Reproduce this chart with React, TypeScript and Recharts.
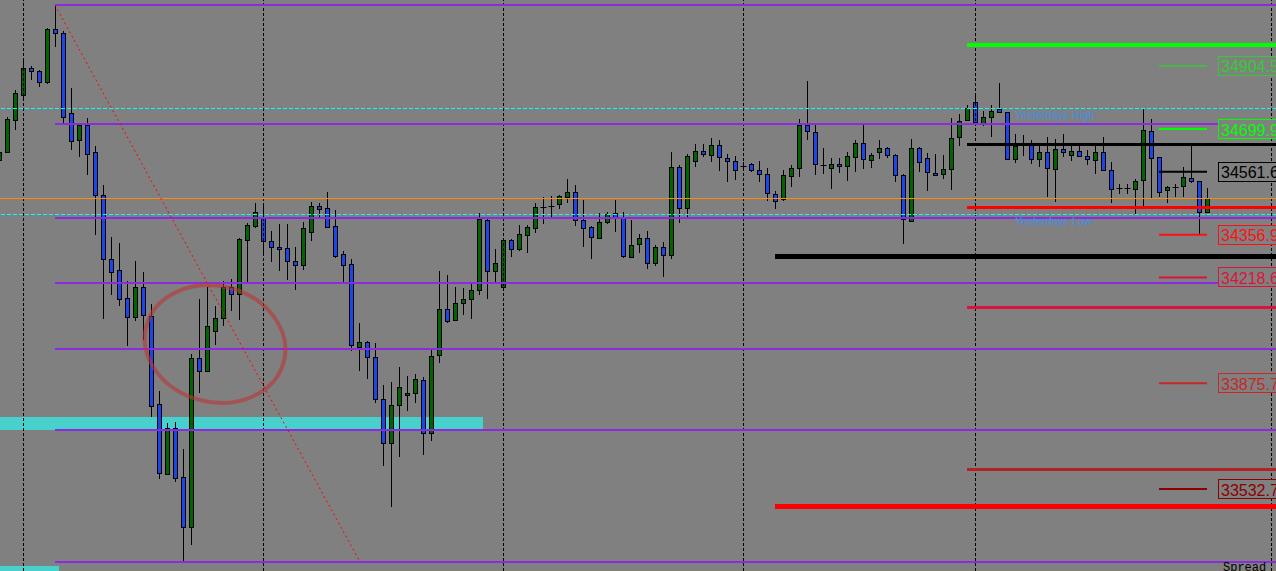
import React from "react"
import { Bar, ComposedChart, ReferenceArea, ReferenceDot, ReferenceLine, XAxis, YAxis } from "recharts"

// candles (one per bar, oldest first)
const opens = [
  34601.2, 34624.9, 34728.7, 34809.1, 34896.4, 34887.0, 34853.9, 35024.1, 35009.9, 34752.4,
  34665.1, 34712.2, 34624.9, 34487.7, 34279.9, 34244.5, 34152.4, 34091.1, 34187.8, 34093.4,
  33807.7, 33581.0, 33729.5, 33571.6, 33410.7, 33956.5, 33916.3, 34043.8, 34088.5, 34187.8,
  34164.4, 34341.5, 34386.2, 34411.5, 34336.0, 34318.5, 34314.2, 34271.1, 34260.1, 34366.1,
  34449.5, 34444.0, 34385.6, 34294.8, 34262.3, 33994.2, 34009.4, 33959.8, 33823.6, 33680.9,
  33804.1, 33836.5, 33843.0, 33886.2, 33713.3, 33966.3, 34117.4, 34080.7, 34134.9, 34147.9,
  34178.0, 34405.0, 34240.6, 34188.7, 34340.2, 34312.0, 34357.4, 34380.1, 34446.2, 34451.4,
  34456.0, 34480.6, 34494.9, 34404.1, 34382.3, 34347.6, 34397.6, 34426.8, 34410.6, 34286.0,
  34326.2, 34345.7, 34266.6, 34317.5, 34292.5, 34575.9, 34443.0, 34595.4, 34627.8, 34614.9,
  34647.3, 34605.1, 34595.4, 34581.1, 34585.7, 34566.2, 34553.2, 34488.4, 34474.1, 34546.8,
  34572.7, 34712.2, 34689.5, 34583.4, 34572.7, 34585.7, 34579.2, 34608.4, 34653.8, 34598.6,
  34624.6, 34637.6, 34614.9, 34550.0, 34402.8, 34637.6, 34605.1, 34556.5, 34553.2, 34569.5,
  34673.2, 34728.4, 34786.7, 34718.6, 34738.1, 34764.0, 34754.3, 34601.9, 34648.3, 34647.3,
  34601.9, 34624.6, 34569.5, 34634.3, 34614.9, 34627.8, 34611.6, 34598.6, 34624.6, 34566.2,
  34509.8, 34509.8, 34504.6, 34533.8, 34692.7, 34608.4, 34501.4, 34511.1, 34514.3, 34540.3,
  34530.5, 34430.0,
]
const highs = [
  34632.0, 34738.1, 34825.7, 34922.3, 34903.5, 34891.8, 35028.7, 35102.0, 35019.3, 34832.8,
  34717.0, 34735.8, 34643.7, 34518.5, 34348.6, 34329.5, 34206.9, 34273.0, 34235.1, 34131.3,
  33850.2, 33746.1, 33748.7, 33661.1, 33970.5, 34147.9, 34187.8, 34126.5, 34206.9, 34213.7,
  34346.0, 34395.6, 34461.8, 34452.7, 34368.4, 34392.1, 34392.1, 34316.5, 34398.5, 34463.4,
  34459.2, 34495.8, 34437.5, 34305.5, 34279.5, 34072.0, 34013.6, 34005.2, 33870.9, 33879.7,
  33927.3, 33899.1, 33905.6, 33894.9, 33989.9, 34238.7, 34225.7, 34186.8, 34184.5, 34199.8,
  34426.8, 34407.3, 34312.0, 34341.0, 34342.4, 34387.8, 34387.8, 34459.2, 34478.7, 34482.9,
  34485.1, 34538.0, 34518.5, 34469.9, 34385.6, 34427.7, 34431.0, 34469.9, 34430.0, 34405.0,
  34358.7, 34368.4, 34323.0, 34332.7, 34625.6, 34582.4, 34618.1, 34650.5, 34650.5, 34670.0,
  34663.5, 34618.1, 34612.6, 34593.1, 34589.9, 34596.4, 34574.7, 34499.1, 34566.2, 34582.4,
  34731.6, 34854.8, 34712.2, 34637.6, 34606.1, 34605.1, 34624.6, 34663.5, 34712.2, 34621.3,
  34663.5, 34640.8, 34618.1, 34553.2, 34666.8, 34640.8, 34621.3, 34618.1, 34614.9, 34734.9,
  34747.8, 34777.0, 34806.2, 34757.6, 34777.0, 34848.4, 34754.3, 34683.0, 34680.7, 34664.5,
  34647.3, 34673.2, 34666.8, 34683.0, 34647.3, 34647.3, 34631.1, 34647.3, 34673.2, 34592.2,
  34522.8, 34522.8, 34537.0, 34767.3, 34731.6, 34608.4, 34514.3, 34520.8, 34575.9, 34647.3,
  34530.5, 34507.8,
]
const lows = [
  34593.1, 34623.0, 34698.2, 34793.9, 34858.7, 34835.1, 34846.7, 34967.4, 34714.7, 34632.0,
  34610.6, 34551.6, 34358.0, 34084.0, 34161.8, 34126.5, 33996.4, 34079.1, 34015.6, 33767.5,
  33566.7, 33578.4, 33554.7, 33297.6, 33351.7, 33845.3, 33911.5, 34001.3, 34060.3, 34109.9,
  34081.7, 34202.0, 34379.1, 34292.5, 34268.8, 34240.6, 34210.5, 34178.0, 34242.9, 34337.9,
  34415.7, 34379.1, 34281.8, 34201.7, 33981.2, 33916.3, 33890.4, 33812.5, 33607.3, 33475.3,
  33635.5, 33784.7, 33812.5, 33643.9, 33689.3, 33940.3, 34070.0, 34078.5, 34097.9, 34083.0,
  34160.8, 34147.9, 34199.8, 34175.8, 34286.0, 34305.5, 34299.0, 34363.9, 34392.1, 34413.8,
  34441.7, 34461.1, 34386.6, 34318.5, 34279.5, 34344.4, 34392.1, 34367.1, 34282.8, 34282.8,
  34299.0, 34247.1, 34256.8, 34221.2, 34279.5, 34396.3, 34412.5, 34577.9, 34608.4, 34594.1,
  34564.9, 34529.2, 34535.7, 34567.2, 34559.7, 34529.2, 34467.6, 34441.7, 34467.6, 34513.0,
  34545.5, 34663.5, 34552.0, 34555.2, 34506.5, 34558.4, 34530.5, 34559.7, 34569.5, 34572.7,
  34603.8, 34605.1, 34527.3, 34326.2, 34400.8, 34561.7, 34498.1, 34546.8, 34539.0, 34501.4,
  34644.1, 34725.1, 34718.6, 34708.9, 34675.2, 34754.3, 34599.6, 34588.9, 34612.6, 34586.6,
  34577.9, 34480.6, 34464.4, 34608.4, 34595.4, 34608.4, 34582.4, 34553.2, 34563.0, 34459.2,
  34488.4, 34488.4, 34422.2, 34444.9, 34474.1, 34478.7, 34459.2, 34478.7, 34478.7, 34524.1,
  34355.4, 34430.0,
]
const closes = [
  34624.9, 34731.3, 34816.3, 34896.4, 34887.0, 34851.6, 35024.1, 35009.9, 34740.7, 34662.5,
  34712.2, 34620.1, 34487.7, 34277.6, 34237.4, 34150.1, 34091.1, 34187.8, 34095.7, 33802.8,
  33585.5, 33729.5, 33569.0, 33410.7, 33956.5, 33916.3, 34060.3, 34086.3, 34187.8, 34166.7,
  34343.7, 34388.5, 34431.0, 34336.0, 34318.5, 34312.0, 34273.1, 34260.1, 34379.1, 34450.4,
  34441.7, 34383.3, 34288.3, 34260.1, 34000.6, 34009.4, 33959.8, 33823.6, 33680.9, 33804.1,
  33864.4, 33843.0, 33888.4, 33713.3, 33964.0, 34115.4, 34076.5, 34134.9, 34147.9, 34178.0,
  34407.3, 34238.7, 34264.6, 34340.2, 34312.0, 34358.7, 34382.3, 34446.2, 34446.2, 34451.4,
  34481.9, 34494.9, 34404.1, 34380.1, 34350.9, 34397.6, 34423.5, 34410.6, 34289.3, 34323.0,
  34345.7, 34266.6, 34317.5, 34290.6, 34575.9, 34443.0, 34611.6, 34627.8, 34618.1, 34647.3,
  34608.4, 34595.4, 34566.2, 34581.1, 34566.2, 34553.2, 34491.6, 34465.7, 34550.0, 34572.7,
  34712.2, 34692.7, 34585.7, 34583.4, 34585.7, 34579.2, 34611.6, 34653.8, 34601.9, 34614.9,
  34637.6, 34614.9, 34550.0, 34407.3, 34637.6, 34592.2, 34559.7, 34550.0, 34569.5, 34670.0,
  34725.1, 34767.3, 34721.9, 34738.1, 34759.5, 34754.3, 34601.9, 34645.0, 34648.3, 34603.8,
  34624.6, 34572.7, 34634.3, 34624.6, 34627.8, 34611.6, 34601.9, 34624.6, 34566.2, 34504.6,
  34509.8, 34509.8, 34530.5, 34695.9, 34605.1, 34494.9, 34511.1, 34511.1, 34543.5, 34530.5,
  34430.0, 34475.4,
]

// horizontal objects on the chart
const pivotLevels = [35102.3, 34716.4, 34413.1, 34200.7, 33986.7, 33724.0, 33295.9]
const yesterdayHigh = 34767.3
const yesterdayLow = 34423.9
const bidPrice = 34475.4
const sessionBreaks = [3, 33, 63, 93, 122, 159]
const labelLevels = [34904.5, 34699.9, 34561.6, 34356.9, 34218.6, 33875.7, 33532.7]
const zoneLevels = [34972.6, 34651.5, 34445.6, 34288.3, 34122.9, 33595.9, 33477.5]
const zoneStartBar = [121, 121, 121, 97, 121, 121, 97]
const trendStart = { bar: 7, price: 35102.0 }
const trendEnd = { bar: 45, price: 33302.4 }
const circleAt = { bar: 27, price: 34002.9 }
const supplyZone = { from: 0, to: 60, low: 33724.0, high: 33766.2 }
const cornerZone = { from: 0, to: 7, low: 33266.8, high: 33283.0 }

const labelColors = ["#32cd32", "#00ff00", "#000000", "#ff1010", "#dc143c", "#c62828", "#8b0000"]
const zoneColors = ["#00ff00", "#000000", "#ff0000", "#000000", "#dc143c", "#b22222", "#ff0000"]
const zoneWidths = [4, 3, 3, 5, 3, 3, 5]

const SLOTS = 162
const STEP = 8
const PRICE_MIN = 33266.8
const PRICE_MAX = 35118.5
const LAST_SLOT = SLOTS - 1
const LABEL_FROM = 145
const LABEL_TO = 151

const data = Array.from({ length: SLOTS }, (_, i) => ({
  i,
  open: opens[i],
  high: highs[i],
  low: lows[i],
  close: closes[i],
}))

const BULL = "#006400"
const BEAR = "#1c46e8"
const SANS = "'Liberation Sans', Arial, sans-serif"

const Candle = (props: any) => {
  const { x, y, width, height, payload } = props
  if (payload == null || payload.open == null) return null
  const { open, high, low, close } = payload
  const yHigh = Math.min(y, y + height)
  const yLow = Math.max(y, y + height)
  const range = high - low
  const toY = (v: number) => (range > 0 ? yHigh + ((high - v) / range) * (yLow - yHigh) : yHigh)
  const cx = Math.floor(x + width / 2) + 0.5
  const yO = toY(open)
  const yC = toY(close)
  const top = Math.round(Math.min(yO, yC)) + 0.5
  const bottom = Math.round(Math.max(yO, yC)) + 0.5
  return (
    <g>
      <line x1={cx} x2={cx} y1={Math.round(yHigh)} y2={Math.round(yLow)} stroke="#000" strokeWidth={1} />
      {bottom - top < 1 ? (
        <line x1={cx - 3} x2={cx + 3} y1={top} y2={top} stroke="#000" strokeWidth={1} />
      ) : (
        <rect
          x={cx - 2}
          y={top}
          width={4}
          height={bottom - top}
          fill={close > open ? BULL : BEAR}
          stroke="#000"
          strokeWidth={1}
        />
      )}
    </g>
  )
}

const priceBox = (color: string, value: number) => (props: any) => {
  const { cx, cy } = props
  return (
    <g>
      <rect x={cx + 11.5} y={Math.round(cy) - 9.5} width={80} height={19} fill="#808080" stroke={color} strokeWidth={1} />
      <text x={cx + 14} y={cy + 6.5} fill={color} fontSize={16} fontFamily={SANS}>
        {value.toFixed(1)}
      </text>
    </g>
  )
}

const textTag = (text: string, color: string, dy: number, size: number, family: string) => (props: any) => (
  <text x={props.cx} y={props.cy + dy} fill={color} fontSize={size} fontFamily={family}>
    {text}
  </text>
)

const circleShape = (props: any) => (
  <ellipse
    cx={props.cx}
    cy={props.cy}
    rx={71}
    ry={58}
    transform={`rotate(14 ${props.cx} ${props.cy})`}
    fill="none"
    stroke="rgba(185, 55, 55, 0.6)"
    strokeWidth={4}
  />
)

export default function App() {
  return (
    <div style={{ width: 1276, height: 571, overflow: "hidden", position: "relative", background: "#808080" }}>
      <style>{`body{margin:0;overflow:hidden}`}</style>
      <ComposedChart
        width={SLOTS * STEP}
        height={571}
        data={data}
        margin={{ top: 0, right: 0, bottom: 0, left: 0 }}
        barCategoryGap={0}
        style={{ position: "absolute", left: -5, top: 0, background: "#808080" }}
      >
        <XAxis dataKey="i" hide />
        <YAxis hide type="number" domain={[PRICE_MIN, PRICE_MAX]} allowDataOverflow />

        <ReferenceArea
          x1={supplyZone.from}
          x2={supplyZone.to}
          y1={supplyZone.low}
          y2={supplyZone.high}
          fill="#48d1cc"
          fillOpacity={1}
          stroke="none"
          ifOverflow="visible"
        />
        <ReferenceArea
          x1={cornerZone.from}
          x2={cornerZone.to}
          y1={cornerZone.low}
          y2={cornerZone.high}
          fill="#48d1cc"
          fillOpacity={1}
          stroke="none"
          ifOverflow="visible"
        />

        {sessionBreaks.map((b) => (
          <ReferenceLine
            key={`s${b}`}
            x={b}
            stroke="#000"
            strokeDasharray="3 2"
            strokeWidth={1}
            shapeRendering="crispEdges"
            ifOverflow="visible"
          />
        ))}

        <ReferenceLine y={bidPrice} stroke="#ff8c00" strokeWidth={1} shapeRendering="crispEdges" />
        <ReferenceLine y={yesterdayHigh} stroke="#00ffff" strokeDasharray="4 2" strokeWidth={1} shapeRendering="crispEdges" />
        <ReferenceLine y={yesterdayLow} stroke="#00ffff" strokeDasharray="4 2" strokeWidth={1} shapeRendering="crispEdges" />

        <ReferenceDot
          x={127}
          y={yesterdayLow}
          r={0}
          ifOverflow="visible"
          shape={textTag("Yesterdays Low", "#3f8fe8", 10.5, 11, SANS)}
        />

        {pivotLevels.map((p) => (
          <ReferenceLine
            key={`p${p}`}
            segment={[{ x: trendStart.bar, y: p }, { x: LAST_SLOT, y: p }]}
            stroke="#8a2be2"
            strokeWidth={2}
            shapeRendering="crispEdges"
            ifOverflow="visible"
          />
        ))}

        {zoneLevels.map((p, k) => (
          <ReferenceLine
            key={`z${p}`}
            segment={[{ x: zoneStartBar[k], y: p }, { x: LAST_SLOT, y: p }]}
            stroke={zoneColors[k]}
            strokeWidth={zoneWidths[k]}
            shapeRendering="crispEdges"
            ifOverflow="visible"
          />
        ))}

        {labelLevels.map((p, k) => (
          <ReferenceLine
            key={`l${p}`}
            segment={[{ x: LABEL_FROM, y: p }, { x: LABEL_TO, y: p }]}
            stroke={labelColors[k]}
            strokeWidth={k === 0 ? 1.5 : 2}
            ifOverflow="visible"
          />
        ))}

        <ReferenceLine
          segment={[
            { x: trendStart.bar, y: trendStart.price },
            { x: trendEnd.bar, y: trendEnd.price },
          ]}
          stroke="#ff0000"
          strokeDasharray="2 3"
          strokeWidth={1}
          ifOverflow="visible"
        />

        <ReferenceDot x={circleAt.bar} y={circleAt.price} r={0} ifOverflow="visible" shape={circleShape} />

        <Bar
          dataKey={(d: any) => (d.open == null ? undefined : [d.low, d.high])}
          shape={<Candle />}
          barSize={5}
          isAnimationActive={false}
        />

        <ReferenceDot
          x={127}
          y={yesterdayHigh}
          r={0}
          ifOverflow="visible"
          shape={textTag("Yesterdays High", "#3f8fe8", 10.5, 11, SANS)}
        />

        {labelLevels.map((p, k) => (
          <ReferenceDot
            key={`b${p}`}
            x={LABEL_TO}
            y={p}
            r={0}
            ifOverflow="visible"
            shape={priceBox(labelColors[k], p)}
          />
        ))}

        <ReferenceDot
          x={153}
          y={PRICE_MIN}
          r={0}
          ifOverflow="visible"
          shape={textTag("Spread", "#000", 0, 12, "'Liberation Mono', monospace")}
        />
      </ComposedChart>
    </div>
  )
}
